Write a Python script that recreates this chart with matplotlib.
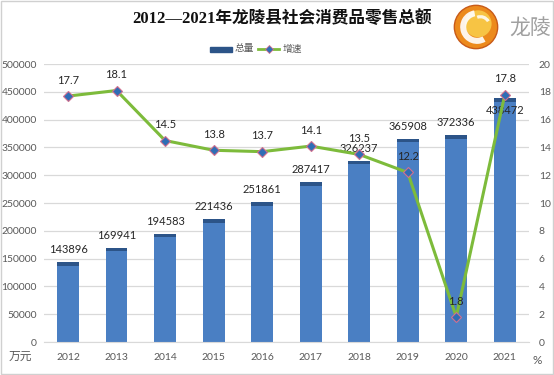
import matplotlib
matplotlib.use("Agg")
import matplotlib.pyplot as plt
from matplotlib.patches import Rectangle, Circle, Wedge
import numpy as np

plt.rcParams['font.family'] = ['Lato', 'Noto Sans CJK SC', 'DejaVu Sans']

years = ['2012', '2013', '2014', '2015', '2016', '2017', '2018', '2019', '2020', '2021']
total = [143896, 169941, 194583, 221436, 251861, 287417, 326237, 365908, 372336, 438472]
growth = [17.7, 18.1, 14.5, 13.8, 13.7, 14.1, 13.5, 12.2, 1.8, 17.8]
left_ticks = [0, 50000, 100000, 150000, 200000, 250000, 300000, 350000, 400000, 450000, 500000]
right_ticks = [0, 2, 4, 6, 8, 10, 12, 14, 16, 18, 20]
title = '2012—2021年龙陵县社会消费品零售总额'

fig = plt.figure(figsize=(5.54, 3.75), dpi=100)
fig.patch.set_facecolor('white')
ax = fig.add_axes([0.079, 0.088, 0.876, 0.741])
ax2 = ax.twinx()

x = np.arange(len(years))
bw = 0.45
ax.bar(x, total, width=bw, color='#4a7fc3', zorder=2)
# dark top cap of each bar (gradient look)
for xi, v in zip(x, total):
    ax.add_patch(Rectangle((xi - bw / 2, v - 6500), bw, 6500, color='#2c5488', zorder=3, lw=0))

ax.set_ylim(0, 500000)
ax.set_xlim(-0.5, len(years) - 0.5)
ax.set_yticks(left_ticks)
ax.set_yticklabels([str(t) for t in left_ticks])
ax.set_xticks(x)
ax.set_xticklabels(years)
ax.grid(axis='y', color='#d9d9d9', lw=0.9, zorder=0)
ax.set_axisbelow(True)
for s in ['top', 'right', 'left']:
    ax.spines[s].set_visible(False)
    ax2.spines[s].set_visible(False)
ax.spines['bottom'].set_color('#d9d9d9')
ax2.spines['bottom'].set_visible(False)
ax.tick_params(axis='y', length=0, labelsize=7.5, colors='#595959', pad=5)
ax.tick_params(axis='x', length=0, labelsize=7.5, colors='#595959', pad=8)

ax2.plot(x, growth, color='#7dbb3b', lw=2.2, marker='D', markersize=5.5,
         markerfacecolor='#2f6db5', markeredgecolor='#d2708f', markeredgewidth=0.8, zorder=5)
ax2.set_ylim(0, 20)
ax2.set_yticks(right_ticks)
ax2.set_yticklabels([str(t) for t in right_ticks])
ax2.tick_params(axis='y', length=0, labelsize=7.5, colors='#595959', pad=7)

# bar labels
for i, v in enumerate(total):
    dy = -9 if i == len(total) - 1 else 9
    ax.annotate(str(v), (x[i], v), xytext=(0, dy), textcoords='offset points',
                ha='center', va='center', fontsize=8, color='#262626', zorder=6)
# line labels
for i, g in enumerate(growth):
    ax2.annotate(f'{g}', (x[i], g), xytext=(0, 11.5), textcoords='offset points',
                 ha='center', va='center', fontsize=8, color='#262626', zorder=6)

fig.text(20 / 554, 1 - 356 / 375, '万元', fontsize=8.5, color='#595959', ha='center', va='center')
fig.text(537 / 554, 1 - 360 / 375, '%', fontsize=8.5, color='#595959', ha='center', va='center')

fig.text(282 / 554, 1 - 19 / 375, title, fontsize=12, fontweight='bold', color='#111111',
         ha='center', va='center', family=['Liberation Serif', 'Noto Sans CJK SC'])

# legend
lx0 = 210 / 554
ly = 1 - 49 / 375
fig.patches.append(Rectangle((lx0, ly - 2.5 / 375), 22 / 554, 5 / 375, transform=fig.transFigure,
                             color='#2c5488', figure=fig))
fig.text(235 / 554, ly, '总量', fontsize=7, color='#595959', va='center', ha='left')
fig.lines.append(plt.Line2D([258 / 554, 279 / 554], [ly, ly], transform=fig.transFigure,
                            color='#7dbb3b', lw=2, figure=fig))
fig.lines.append(plt.Line2D([268.5 / 554], [ly], transform=fig.transFigure,
                            marker='D', markersize=4.5, markerfacecolor='#2f6db5',
                            markeredgecolor='#d2708f', markeredgewidth=0.6, figure=fig, ls='none'))
fig.text(283 / 554, ly, '增速', fontsize=7, color='#595959', va='center', ha='left')

# logo
lax = fig.add_axes([450 / 554, 1 - 53 / 375, 52 / 554, 52 / 375])
lax.set_xlim(-1.2, 1.2)
lax.set_ylim(-1.2, 1.2)
lax.set_aspect('equal')
lax.axis('off')
lax.add_patch(Circle((0, 0), 1.0, facecolor='#ec8a1c', edgecolor='#c85a18', lw=1))
lax.add_patch(Circle((0.1, 0.15), 0.62, facecolor='#f7c444', edgecolor='none'))
lax.add_patch(Wedge((0.05, 0.0), 0.78, 100, 300, width=0.28, facecolor='white', edgecolor='none', alpha=0.9))
lax.add_patch(Wedge((0.2, 0.05), 0.5, 30, 110, width=0.15, facecolor='white', edgecolor='none', alpha=0.85))
fig.text(530 / 554, 1 - 29 / 375, '龙陵', fontsize=15, color='#a0a0a0', ha='center', va='center',
         family=['Noto Sans CJK SC'], fontweight='light')

# figure border
fig.patches.append(Rectangle((0.002, 0.003), 0.996, 0.994, transform=fig.transFigure,
                             facecolor='none', edgecolor='#d0d0d0', lw=1, figure=fig))

fig.savefig('out.png', dpi=100)
